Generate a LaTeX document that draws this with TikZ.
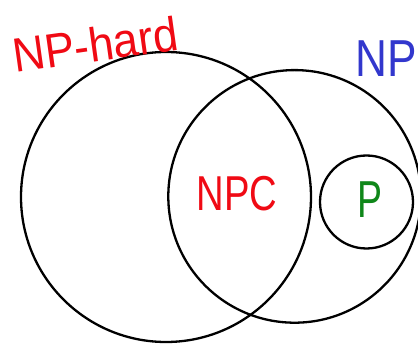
\documentclass[tikz,border=0pt]{standalone}
\usepackage{fontspec}
\setmainfont{Liberation Sans}
\definecolor{hred}{RGB}{240,10,20}
\definecolor{hblue}{RGB}{50,55,205}
\definecolor{hgreen}{RGB}{15,135,25}
\tikzset{
  setc/.style={circle, draw=black, line width=2.3pt, inner sep=0pt, minimum size=#1},
  lab/.style={inner sep=0pt, font=\fontsize{#1}{#1}\selectfont},
}
\begin{document}
\begin{tikzpicture}[x=1pt,y=1pt]
\useasboundingbox (0,0) rectangle (418,343);
\clip (0,0) rectangle (418,343);
\fill[white] (0,0) rectangle (418,343);
\node[setc=290pt] (nphard) at (166,146) {};
\node[setc=252.6pt] (np) at (294.6,146.6) {};
\node[setc=93pt] (p) at (366.5,141) {};
\node[lab=48, text=hred, anchor=base west, rotate=8] (tnphard) at (15,270) {\scalebox{0.93}[1]{NP-hard}};
\node[lab=52, text=hblue, anchor=base west] (tnp) at (355,266) {\scalebox{0.85}[1]{NP}};
\node[lab=49, text=hred] (tnpc) at (237,149) {\scalebox{0.78}[1]{NPC}};
\node[lab=52, text=hgreen] (tp) at (370,143) {\scalebox{0.72}[1]{P}};
\end{tikzpicture}
\end{document}
